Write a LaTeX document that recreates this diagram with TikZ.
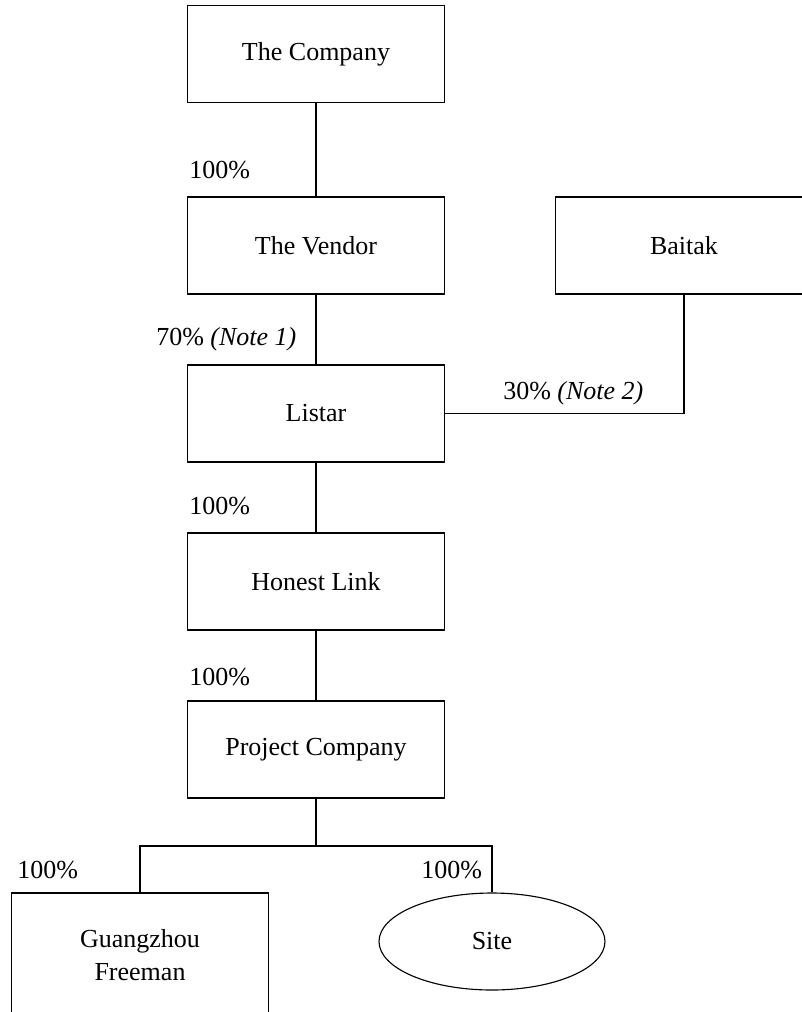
\documentclass[tikz,border=0pt]{standalone}
\usepackage{fontspec}
\setmainfont{Liberation Serif}
\usetikzlibrary{shapes.geometric}

\begin{document}
\begin{tikzpicture}[
  box/.style={draw,line width=0.8pt,minimum width=6.425cm,minimum height=2.425cm,inner sep=0pt},
  pct/.style={anchor=base west,inner sep=0pt},
  font=\fontsize{18.5}{23.5}\selectfont
]
\useasboundingbox (0,0) rectangle (20.05,-25.3);

\node[box](co)  at (7.9,-1.35)    {The Company};
\node[box](ven) at (7.9,-6.1375)  {The Vendor};
\node[box](bai) at (17.1,-6.1375) {Baitak};
\node[box](lis) at (7.9,-10.3375) {Listar};
\node[box](hl)  at (7.9,-14.5375) {Honest Link};
\node[box](pc)  at (7.9,-18.7375) {Project Company};
\node[box,minimum height=3.1cm,align=center](gf) at (3.5,-23.875) {Guangzhou\\Freeman};
\node[draw,ellipse,line width=0.8pt,minimum width=5.65cm,minimum height=2.425cm,inner sep=0pt](site) at (12.3,-23.5375) {Site};

\coordinate(split) at (7.9,-21.15);

\draw[line width=0.8pt] (co) -- (ven) -- (lis) -- (hl) -- (pc) -- (split);
\draw[line width=0.8pt] (bai.south) |- (lis.east);
\draw[line width=0.8pt] (gf.north) |- (split) -| (site.north);

\node[pct](p1) at (4.725,-4.465)   {100\%};
\node[pct](p2) at (3.9,-8.64)      {70\% \textit{(Note 1)}};
\node[pct](p3) at (12.575,-9.99)   {30\% \textit{(Note 2)}};
\node[pct](p4) at (4.725,-12.865)  {100\%};
\node[pct](p5) at (4.725,-17.14)   {100\%};
\node[pct](p6) at (0.425,-21.965)  {100\%};
\node[pct](p7) at (10.525,-21.965) {100\%};

\end{tikzpicture}
\end{document}
